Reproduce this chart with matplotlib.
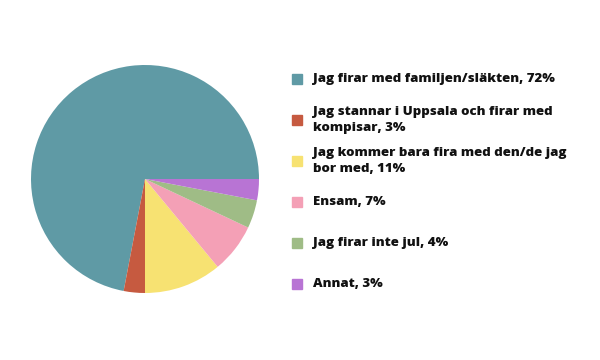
import matplotlib

matplotlib.use("Agg")
import matplotlib.pyplot as plt
from matplotlib.patches import Rectangle

labels = [
    "Jag firar med familjen/släkten, 72%",
    "Jag stannar i Uppsala och firar med\nkompisar, 3%",
    "Jag kommer bara fira med den/de jag\nbor med, 11%",
    "Ensam, 7%",
    "Jag firar inte jul, 4%",
    "Annat, 3%",
]
shares = [72, 3, 11, 7, 4, 3]
colors = ["#5f9aa5", "#c65a40", "#f7e272", "#f4a0b6", "#9fbc86", "#b874d4"]

plt.rcParams["font.family"] = ["Open Sans", "DejaVu Sans"]

fig = plt.figure(figsize=(6, 3.6), dpi=100)

# pie: centre (145, 179) px, radius 114 px
ax = fig.add_axes([31 / 600, 67 / 360, 228 / 600, 228 / 360])
ax.pie(shares, colors=colors, startangle=0, counterclock=True, radius=1,
       wedgeprops={"linewidth": 0})
ax.set_xlim(-1, 1)
ax.set_ylim(-1, 1)
ax.set_aspect("equal")
ax.axis("off")

# legend drawn by hand, rows 41 px apart
for i, (lab, col) in enumerate(zip(labels, colors)):
    yc = 79 + 41 * i
    fig.patches.append(Rectangle((292 / 600, (360 - yc - 5) / 360), 10 / 600, 10 / 360,
                                 transform=fig.transFigure, color=col))
    fig.text(313 / 600, (360 - yc) / 360, lab, fontsize=9.5, fontweight="heavy",
             va="center", ha="left", linespacing=1.45, color="#111111")

fig.savefig("out.png", dpi=100, facecolor="white")
